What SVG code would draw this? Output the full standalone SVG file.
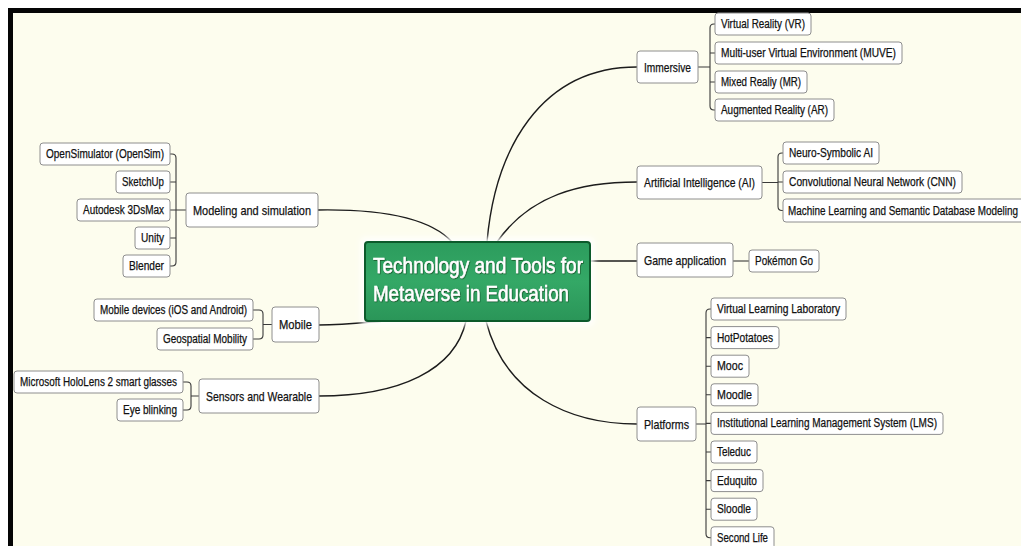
<svg xmlns="http://www.w3.org/2000/svg" width="1021" height="546" viewBox="0 0 1021 546">
<defs>
<style>
.n rect{fill:#ffffff;stroke:#8e8e8e;stroke-width:1}
.n text{font-family:"Liberation Sans",Arial,sans-serif;font-size:12.5px;fill:#111111;stroke:#111111;stroke-width:0.25}
.n text.b{font-size:13.5px}
.c{fill:none;stroke:#1c1c1c;stroke-width:1.4}
.k{fill:none;stroke:#3a3a3a;stroke-width:1.1}
.ct{font-family:"Liberation Sans",Arial,sans-serif;font-size:22.5px;fill:#ffffff;stroke:#ffffff;stroke-width:0.5}
</style>
<linearGradient id="g" x1="0" y1="0" x2="0" y2="1">
<stop offset="0" stop-color="#2c9c5d"/>
<stop offset="0.5" stop-color="#34a866"/>
<stop offset="1" stop-color="#2a9558"/>
</linearGradient>
<filter id="halo" x="-10%" y="-20%" width="120%" height="140%">
<feGaussianBlur stdDeviation="3"/>
</filter>
<filter id="ts" x="-5%" y="-20%" width="110%" height="140%">
<feDropShadow dx="0.6" dy="0.8" stdDeviation="0.6" flood-color="#0b3d1f" flood-opacity="0.8"/>
</filter>
</defs>
<rect x="0" y="0" width="1021" height="546" fill="#ffffff"/>
<rect x="8" y="8" width="1013" height="538" fill="#fdfdee"/>
<rect x="8" y="8" width="1013" height="5" fill="#050505"/>
<rect x="8" y="8" width="5" height="538" fill="#050505"/>

<g id="connectors">
<path class="c" d="M318,210 C380,209 430,218 452,242"/>
<path class="c" d="M487,242 C495,150 540,67 637,67"/>
<path class="c" d="M497,242 C530,195 580,182 637,182"/>
<path class="c" d="M590,261 H637"/>
<path class="c" d="M486,321 C505,395 570,424 637,424"/>
<path class="c" d="M319,325 C345,325 370,322 384,321"/>
<path class="c" d="M319,396 C400,396 455,370 466,321"/>
<path class="k" d="M170,154 H172 Q176,154 176,158 V262 Q176,266 172,266 H170 M170,182 H176 M170,210 H186 M170,238 H176"/>
<path class="k" d="M253,310 H259 Q263,310 263,314 V335 Q263,339 259,339 H253 M263,324.5 H272"/>
<path class="k" d="M183,382 H187 Q191,382 191,386 V406 Q191,410 187,410 H183 M191,396 H199"/>
<path class="k" d="M698,67 H710 M715,24 H714 Q710,24 710,28 V106 Q710,110 714,110 H715 M710,53 H715 M710,82 H715"/>
<path class="k" d="M762,182.5 H778 M783,153 H782 Q778,153 778,157 V206.5 Q778,210.5 782,210.5 H783 M778,182 H783"/>
<path class="k" d="M733,261 H749"/>
<path class="k" d="M696,424 H706 M711,309 H710 Q706,309 706,313 V533.8 Q706,537.8 710,537.8 H711 M706,337.6 H711 M706,366.2 H711 M706,394.8 H711 M706,423.4 H711 M706,452 H711 M706,480.6 H711 M706,509.2 H711"/>
</g>

<g id="center">
<rect x="361" y="238" width="233" height="87" rx="4" fill="#ffffff" filter="url(#halo)"/>
<rect x="365" y="242" width="225" height="79" rx="3" fill="url(#g)" stroke="#0c5a2b" stroke-width="2"/>
<g filter="url(#ts)">
<text class="ct" x="373" y="273" textLength="210" lengthAdjust="spacingAndGlyphs">Technology and Tools for</text>
<text class="ct" x="373" y="301" textLength="196" lengthAdjust="spacingAndGlyphs">Metaverse in Education</text>
</g>
</g>

<g id="n-opensim" class="n"><rect x="40" y="143" width="130" height="22" rx="3"/><text x="46" y="158" textLength="118" lengthAdjust="spacingAndGlyphs">OpenSimulator (OpenSim)</text></g>
<g id="n-sketchup" class="n"><rect x="116" y="171" width="54" height="22" rx="3"/><text x="122" y="186" textLength="42" lengthAdjust="spacingAndGlyphs">SketchUp</text></g>
<g id="n-3dsmax" class="n"><rect x="77" y="199" width="93" height="22" rx="3"/><text x="83" y="214" textLength="81" lengthAdjust="spacingAndGlyphs">Autodesk 3DsMax</text></g>
<g id="n-unity" class="n"><rect x="135" y="227" width="35" height="22" rx="3"/><text x="141" y="242" textLength="23" lengthAdjust="spacingAndGlyphs">Unity</text></g>
<g id="n-blender" class="n"><rect x="123" y="255" width="47" height="22" rx="3"/><text x="129" y="270" textLength="35" lengthAdjust="spacingAndGlyphs">Blender</text></g>
<g id="n-modeling" class="n"><rect x="186" y="193" width="132" height="34" rx="3"/><text class="b" x="193" y="214.5" textLength="118" lengthAdjust="spacingAndGlyphs">Modeling and simulation</text></g>

<g id="n-mobiledev" class="n"><rect x="94" y="299" width="159" height="22" rx="3"/><text x="100" y="314" textLength="147" lengthAdjust="spacingAndGlyphs">Mobile devices (iOS and Android)</text></g>
<g id="n-geo" class="n"><rect x="157" y="328" width="96" height="22" rx="3"/><text x="163" y="343" textLength="84" lengthAdjust="spacingAndGlyphs">Geospatial Mobility</text></g>
<g id="n-mobile" class="n"><rect x="272" y="307" width="47" height="35" rx="3"/><text class="b" x="279" y="329" textLength="33" lengthAdjust="spacingAndGlyphs">Mobile</text></g>

<g id="n-hololens" class="n"><rect x="14" y="371" width="169" height="22" rx="3"/><text x="20" y="386" textLength="157" lengthAdjust="spacingAndGlyphs">Microsoft HoloLens 2 smart glasses</text></g>
<g id="n-eye" class="n"><rect x="117" y="399" width="66" height="22" rx="3"/><text x="123" y="414" textLength="54" lengthAdjust="spacingAndGlyphs">Eye blinking</text></g>
<g id="n-sensors" class="n"><rect x="199" y="379" width="120" height="34" rx="3"/><text class="b" x="206" y="400.5" textLength="106" lengthAdjust="spacingAndGlyphs">Sensors and Wearable</text></g>

<g id="n-immersive" class="n"><rect x="637" y="51" width="61" height="32" rx="3"/><text class="b" x="644" y="71.5" textLength="47" lengthAdjust="spacingAndGlyphs">Immersive</text></g>
<g id="n-vr" class="n"><rect x="715" y="13" width="96" height="22" rx="3"/><text x="721" y="28" textLength="84" lengthAdjust="spacingAndGlyphs">Virtual Reality (VR)</text></g>
<g id="n-muve" class="n"><rect x="715" y="42" width="187" height="22" rx="3"/><text x="721" y="57" textLength="175" lengthAdjust="spacingAndGlyphs">Multi-user Virtual Environment (MUVE)</text></g>
<g id="n-mr" class="n"><rect x="715" y="71" width="92" height="22" rx="3"/><text x="721" y="86" textLength="80" lengthAdjust="spacingAndGlyphs">Mixed Realiy (MR)</text></g>
<g id="n-ar" class="n"><rect x="715" y="99" width="119" height="22" rx="3"/><text x="721" y="114" textLength="107" lengthAdjust="spacingAndGlyphs">Augmented Reality (AR)</text></g>

<g id="n-ai" class="n"><rect x="637" y="166" width="125" height="33" rx="3"/><text class="b" x="644" y="187" textLength="111" lengthAdjust="spacingAndGlyphs">Artificial Intelligence (AI)</text></g>
<g id="n-neuro" class="n"><rect x="783" y="142" width="96" height="22" rx="3"/><text x="789" y="157" textLength="84" lengthAdjust="spacingAndGlyphs">Neuro-Symbolic AI</text></g>
<g id="n-cnn" class="n"><rect x="783" y="171" width="179" height="22" rx="3"/><text x="789" y="186" textLength="167" lengthAdjust="spacingAndGlyphs">Convolutional Neural Network (CNN)</text></g>
<g id="n-ml" class="n"><rect x="783" y="199" width="250" height="23" rx="3"/><text x="788" y="215" textLength="230" lengthAdjust="spacingAndGlyphs">Machine Learning and Semantic Database Modeling</text></g>

<g id="n-game" class="n"><rect x="637" y="243" width="96" height="34" rx="3"/><text class="b" x="644" y="264.5" textLength="82" lengthAdjust="spacingAndGlyphs">Game application</text></g>
<g id="n-pokemon" class="n"><rect x="749" y="250" width="70" height="22" rx="3"/><text x="755" y="265" textLength="58" lengthAdjust="spacingAndGlyphs">Pokémon Go</text></g>

<g id="n-platforms" class="n"><rect x="637" y="407" width="59" height="34" rx="3"/><text class="b" x="644" y="428.5" textLength="45" lengthAdjust="spacingAndGlyphs">Platforms</text></g>
<g id="n-vll" class="n"><rect x="711" y="298" width="135" height="22" rx="3"/><text x="717" y="313" textLength="123" lengthAdjust="spacingAndGlyphs">Virtual Learning Laboratory</text></g>
<g id="n-hotpotatoes" class="n"><rect x="711" y="326.6" width="68" height="22" rx="3"/><text x="717" y="341.6" textLength="56" lengthAdjust="spacingAndGlyphs">HotPotatoes</text></g>
<g id="n-mooc" class="n"><rect x="711" y="355.2" width="38" height="22" rx="3"/><text x="717" y="370.2" textLength="26" lengthAdjust="spacingAndGlyphs">Mooc</text></g>
<g id="n-moodle" class="n"><rect x="711" y="383.8" width="47" height="22" rx="3"/><text x="717" y="398.8" textLength="35" lengthAdjust="spacingAndGlyphs">Moodle</text></g>
<g id="n-lms" class="n"><rect x="711" y="412.4" width="232" height="22" rx="3"/><text x="717" y="427.4" textLength="220" lengthAdjust="spacingAndGlyphs">Institutional Learning Management System (LMS)</text></g>
<g id="n-teleduc" class="n"><rect x="711" y="441" width="46" height="22" rx="3"/><text x="717" y="456" textLength="34" lengthAdjust="spacingAndGlyphs">Teleduc</text></g>
<g id="n-eduquito" class="n"><rect x="711" y="469.6" width="52" height="22" rx="3"/><text x="717" y="484.6" textLength="40" lengthAdjust="spacingAndGlyphs">Eduquito</text></g>
<g id="n-sloodle" class="n"><rect x="711" y="498.2" width="46" height="22" rx="3"/><text x="717" y="513.2" textLength="34" lengthAdjust="spacingAndGlyphs">Sloodle</text></g>
<g id="n-secondlife" class="n"><rect x="711" y="526.8" width="63" height="22" rx="3"/><text x="717" y="541.8" textLength="51" lengthAdjust="spacingAndGlyphs">Second Life</text></g>
</svg>
